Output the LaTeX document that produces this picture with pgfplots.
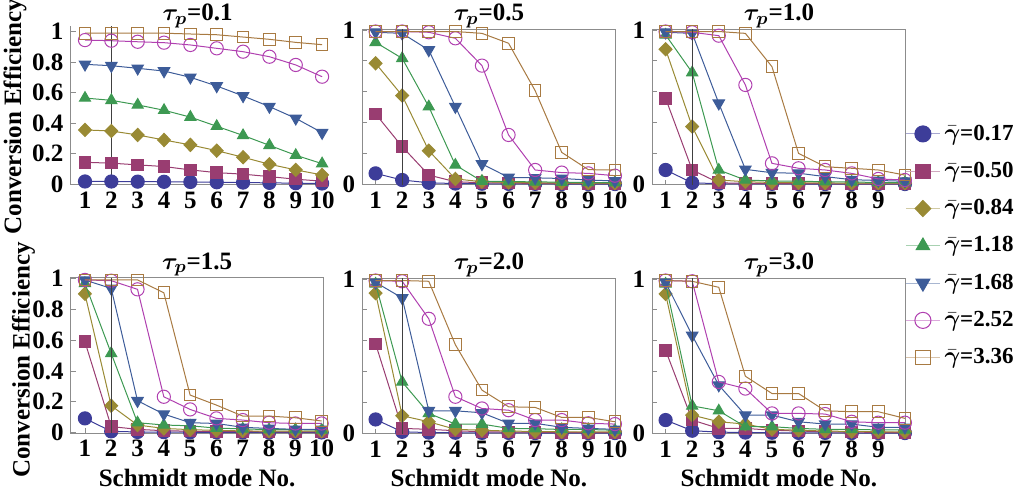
\documentclass[border=0pt]{standalone}
\usepackage{amsmath}
\usepackage{fontspec}
\setmainfont{Liberation Serif}
\usepackage{pgfplots}
\usepackage{pgfplotstable}
\pgfplotsset{compat=1.18}

\definecolor{c1}{RGB}{61,61,153}
\definecolor{c2}{RGB}{153,61,113}
\definecolor{c3}{RGB}{153,138,52}
\definecolor{c4}{RGB}{61,153,82}
\definecolor{c5}{RGB}{61,92,153}
\definecolor{c6}{RGB}{176,64,176}
\definecolor{c7}{RGB}{168,122,66}

\newcommand\ff{\fontsize{12.5}{14.5}\selectfont\bfseries}
\newcommand\lf{\fontsize{11.5}{13.5}\selectfont\bfseries}

% tau_p = 0.1
\pgfplotstableread{
x s1 s2 s3 s4 s5 s6 s7
1 0.018 0.144 0.356 0.565 0.786 0.945 0.990
2 0.018 0.138 0.349 0.550 0.777 0.941 0.990
3 0.017 0.127 0.323 0.520 0.760 0.934 0.990
4 0.016 0.116 0.290 0.485 0.742 0.928 0.990
5 0.015 0.094 0.258 0.440 0.701 0.913 0.985
6 0.013 0.076 0.220 0.380 0.644 0.891 0.980
7 0.011 0.066 0.177 0.320 0.579 0.869 0.965
8 0.009 0.050 0.131 0.255 0.509 0.836 0.950
9 0.007 0.033 0.094 0.190 0.432 0.782 0.930
10 0.005 0.020 0.061 0.135 0.338 0.705 0.915
}\tA
% tau_p = 0.5
\pgfplotstableread{
x s1 s2 s3 s4 s5 s6 s7
1 0.071 0.456 0.784 0.920 0.985 0.990 0.990
2 0.028 0.244 0.575 0.816 0.978 0.990 0.990
3 0.010 0.060 0.218 0.503 0.870 0.985 0.990
4 0.005 0.017 0.035 0.125 0.503 0.946 0.990
5 0.004 0.010 0.017 0.020 0.132 0.769 0.978
6 0.003 0.008 0.012 0.018 0.045 0.320 0.914
7 0.003 0.006 0.010 0.016 0.042 0.093 0.607
8 0.002 0.005 0.009 0.014 0.038 0.076 0.207
9 0.002 0.004 0.008 0.012 0.028 0.071 0.095
10 0.002 0.004 0.007 0.010 0.022 0.056 0.093
}\tB
% tau_p = 1.0
\pgfplotstableread{
x s1 s2 s3 s4 s5 s6 s7
1 0.093 0.557 0.875 0.968 0.985 0.990 0.990
2 0.010 0.093 0.374 0.724 0.978 0.985 0.990
3 0.004 0.010 0.028 0.093 0.525 0.963 0.990
4 0.003 0.006 0.017 0.028 0.097 0.644 0.978
5 0.003 0.005 0.012 0.022 0.075 0.136 0.762
6 0.002 0.004 0.010 0.020 0.072 0.104 0.200
7 0.002 0.004 0.009 0.017 0.050 0.093 0.114
8 0.002 0.003 0.008 0.015 0.030 0.071 0.104
9 0.002 0.003 0.008 0.012 0.025 0.035 0.093
10 0.002 0.003 0.007 0.010 0.020 0.028 0.060
}\tC
% tau_p = 1.5
\pgfplotstableread{
x s1 s2 s3 s4 s5 s6 s7
1 0.093 0.590 0.900 0.968 0.989 0.990 0.990
2 0.009 0.040 0.175 0.514 0.935 0.985 0.990
3 0.005 0.022 0.050 0.065 0.207 0.929 0.990
4 0.004 0.013 0.028 0.050 0.121 0.233 0.907
5 0.003 0.010 0.020 0.045 0.065 0.151 0.244
6 0.003 0.008 0.015 0.030 0.060 0.093 0.179
7 0.002 0.007 0.012 0.025 0.035 0.082 0.108
8 0.002 0.006 0.010 0.020 0.028 0.065 0.108
9 0.002 0.005 0.010 0.020 0.022 0.060 0.097
10 0.002 0.005 0.010 0.018 0.022 0.060 0.076
}\tD
% tau_p = 2.0
\pgfplotstableread{
x s1 s2 s3 s4 s5 s6 s7
1 0.090 0.580 0.908 0.968 0.978 0.990 0.990
2 0.010 0.032 0.114 0.333 0.877 0.985 0.990
3 0.005 0.026 0.075 0.129 0.146 0.742 0.985
4 0.004 0.017 0.026 0.060 0.146 0.237 0.574
5 0.003 0.010 0.020 0.060 0.133 0.161 0.280
6 0.003 0.008 0.015 0.032 0.065 0.150 0.172
7 0.002 0.007 0.012 0.030 0.065 0.086 0.168
8 0.002 0.006 0.010 0.025 0.039 0.086 0.103
9 0.002 0.005 0.010 0.025 0.032 0.065 0.103
10 0.002 0.005 0.010 0.020 0.026 0.060 0.075
}\tE
% tau_p = 3.0
\pgfplotstableread{
x s1 s2 s3 s4 s5 s6 s7
1 0.086 0.538 0.903 0.968 0.978 0.990 0.990
2 0.017 0.086 0.118 0.178 0.634 0.985 0.985
3 0.008 0.032 0.075 0.146 0.312 0.333 0.946
4 0.005 0.032 0.060 0.043 0.118 0.290 0.370
5 0.004 0.020 0.026 0.043 0.118 0.129 0.258
6 0.003 0.015 0.020 0.032 0.075 0.129 0.258
7 0.003 0.010 0.015 0.026 0.060 0.125 0.146
8 0.002 0.008 0.012 0.026 0.060 0.075 0.140
9 0.002 0.006 0.010 0.022 0.039 0.069 0.140
10 0.002 0.005 0.010 0.022 0.039 0.069 0.097
}\tF

\pgfplotsset{
  lgimg/.style={legend image code/.code={%
    \draw[mark repeat=2, mark phase=2, ##1, #1!45, every mark/.append style={scale=1.22}]
      plot coordinates {(0cm,0cm) (0.3cm,0cm) (0.6cm,0cm)};}},
  ser1/.style={c1, line width=0.5pt, mark=*, mark size=3.3pt, mark options={solid, draw=c1, fill=c1}, lgimg=c1},
  ser2/.style={c2, line width=0.5pt, mark=square*, mark size=2.9pt, mark options={solid, draw=c2, fill=c2}, lgimg=c2},
  ser3/.style={c3, line width=0.5pt, mark=diamond*, mark size=3.3pt, mark options={solid, draw=c3, fill=c3, xscale=1.3}, lgimg=c3},
  ser4/.style={c4, line width=0.5pt, mark=triangle*, mark size=3.2pt, mark options={solid, draw=c4, fill=c4}, lgimg=c4},
  ser5/.style={c5, line width=0.5pt, mark=triangle*, mark size=3.3pt, mark options={solid, draw=c5, fill=c5, rotate=180}, lgimg=c5},
  ser6/.style={c6, line width=0.5pt, mark=o, mark size=3.3pt, mark options={solid, draw=c6, line width=0.5pt}, lgimg=c6},
  ser7/.style={c7, line width=0.5pt, mark=square, mark size=2.9pt, mark options={solid, draw=c7, line width=0.5pt}, lgimg=c7},
  every axis title/.style={at={(0.5,1)}, anchor=base, yshift=4.2pt, font=\ff},
  panel/.style={
    scale only axis, width=126.7pt, height=77.8pt,
    xmin=0.5, xmax=10.03, ymin=-0.003, ymax=1.005,
    xtick={1,2,3,4,5,6,7,8,9,10},
    ytick={0,0.2,0.4,0.6,0.8,1}, yticklabels={0,,,,,1},
    axis line style={black!45, line width=0.5pt},
    tick style={black!45, line width=0.4pt},
    major tick length=2.5pt, tick align=inside,
    xtick pos=bottom, ytick pos=left,
    ticklabel style={font=\ff},
    /pgf/number format/assume math mode=true,
    clip mode=individual,
    anchor=south west,
  },
  fullly/.style={ytick={0,0.2,0.4,0.6,0.8,1}, yticklabels={0,0.2,0.4,0.6,0.8,1}},
}

\newcommand\vmark{\draw[black!75, line width=0.45pt] ({axis cs:2,0}|-{rel axis cs:0,0}) -- ({axis cs:2,0}|-{rel axis cs:0,1});}
\newcommand\allseries[1]{%
  \addplot[ser1] table[x=x, y=s1] {#1};
  \addplot[ser2] table[x=x, y=s2] {#1};
  \addplot[ser3] table[x=x, y=s3] {#1};
  \addplot[ser4] table[x=x, y=s4] {#1};
  \addplot[ser5] table[x=x, y=s5] {#1};
  \addplot[ser6] table[x=x, y=s6] {#1};
  \addplot[ser7] table[x=x, y=s7] {#1};
}

\begin{document}
\begin{tikzpicture}
\useasboundingbox (0,0) rectangle (508pt,246pt);

% panel 1
\begin{axis}[panel, at={(35.26pt,153.5pt)}, width=127.1pt, height=79.7pt,
  xmin=0.45, xmax=10.1, ymin=-0.005, ymax=1.04, clip mode=global,
  axis lines*=left, fullly,
  title style={yshift=-1.8pt},
  title={$\boldsymbol{\tau_p}$=0.1},
  ylabel={Conversion Efficiency}, ylabel style={font=\ff, at={(axis description cs:-0.218,0.43)}, anchor=center}]
\allseries{\tA}
\vmark
\end{axis}

% panel 2
\begin{axis}[panel, at={(181.15pt,153.6pt)}, title={$\boldsymbol{\tau_p}$=0.5}]
\allseries{\tB}
\vmark
\end{axis}

% panel 3
\begin{axis}[panel, at={(326.15pt,153.6pt)}, xtick={1,2,3,4,5,6,7,8,9},
  title={$\boldsymbol{\tau_p}$=1.0},
  legend style={font=\lf, draw=none, fill=none, inner sep=0pt, row sep=5.5pt,
    at={(axis description cs:0.997,0.414)}, anchor=north west},
  legend cell align=left]
\allseries{\tC}
\vmark
\legend{$\bar{\boldsymbol{\gamma}}$=0.17, $\bar{\boldsymbol{\gamma}}$=0.50, $\bar{\boldsymbol{\gamma}}$=0.84, $\bar{\boldsymbol{\gamma}}$=1.18, $\bar{\boldsymbol{\gamma}}$=1.68, $\bar{\boldsymbol{\gamma}}$=2.52, $\bar{\boldsymbol{\gamma}}$=3.36}
\end{axis}

% panel 4
\begin{axis}[panel, at={(35.35pt,29.4pt)}, width=126.4pt, xmin=0.46, xmax=10.07, fullly,
  title={$\boldsymbol{\tau_p}$=1.5},
  ylabel={Conversion Efficiency}, ylabel style={font=\ff, at={(axis description cs:-0.187,0.47)}, anchor=center},
  xlabel={Schmidt mode No.}, xlabel style={font=\ff, at={(axis description cs:0.5,-0.288)}, anchor=center}]
\allseries{\tD}
\vmark
\end{axis}

% panel 5
\begin{axis}[panel, at={(181.15pt,29.1pt)},
  title={$\boldsymbol{\tau_p}$=2.0},
  xlabel={Schmidt mode No.}, xlabel style={font=\ff, at={(axis description cs:0.5,-0.284)}, anchor=center}]
\allseries{\tE}
\vmark
\end{axis}

% panel 6
\begin{axis}[panel, at={(326.15pt,29.1pt)}, xtick={1,2,3,4,5,6,7,8,9},
  title={$\boldsymbol{\tau_p}$=3.0},
  xlabel={Schmidt mode No.}, xlabel style={font=\ff, at={(axis description cs:0.5,-0.284)}, anchor=center}]
\allseries{\tF}
\vmark
\end{axis}
\end{tikzpicture}
\end{document}
